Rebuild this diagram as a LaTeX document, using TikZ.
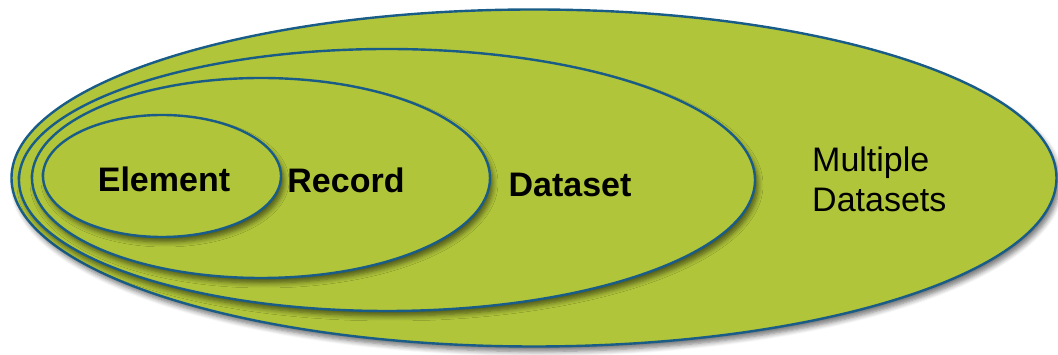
\documentclass[tikz,border=0pt]{standalone}
\usepackage{fontspec}
\setmainfont{Liberation Sans}
\usetikzlibrary{shapes.geometric,shadows.blur}
\definecolor{setgreen}{RGB}{177,197,58}
\definecolor{setblue}{RGB}{24,92,135}

\begin{document}
\begin{tikzpicture}
  [x=1pt,y=1pt,
   set/.style={ellipse,draw=setblue,line width=2.4pt,fill=setgreen,inner sep=0pt,
     blur shadow={shadow xshift=3pt,shadow yshift=-5pt,shadow blur radius=5pt,
       shadow blur steps=6,shadow opacity=55}},
   lbl/.style={font=\fontsize{34}{40}\selectfont,inner sep=0pt}]
  \useasboundingbox (0,0) rectangle (1058,355);

  \foreach \name/\x/\y/\w/\h in {multi/534/177/1045/337,dataset/387/175/736/262,
      record/261/177/458/200,element/162/179/238/122}
    \node[set,minimum width=\w pt,minimum height=\h pt] (\name) at (\x,\y) {};

  \node[lbl,anchor=base] (elementtxt) at (164,163) {\textbf{Element}};
  \node[lbl,anchor=base] (recordtxt) at (346,162) {\textbf{Record}};
  \node[lbl,anchor=base] (datasettxt) at (570,158) {\textbf{Dataset}};
  \node[lbl,anchor=base west,align=left] (multitxt) at (812,143) {Multiple\\Datasets};

\end{tikzpicture}
\end{document}
